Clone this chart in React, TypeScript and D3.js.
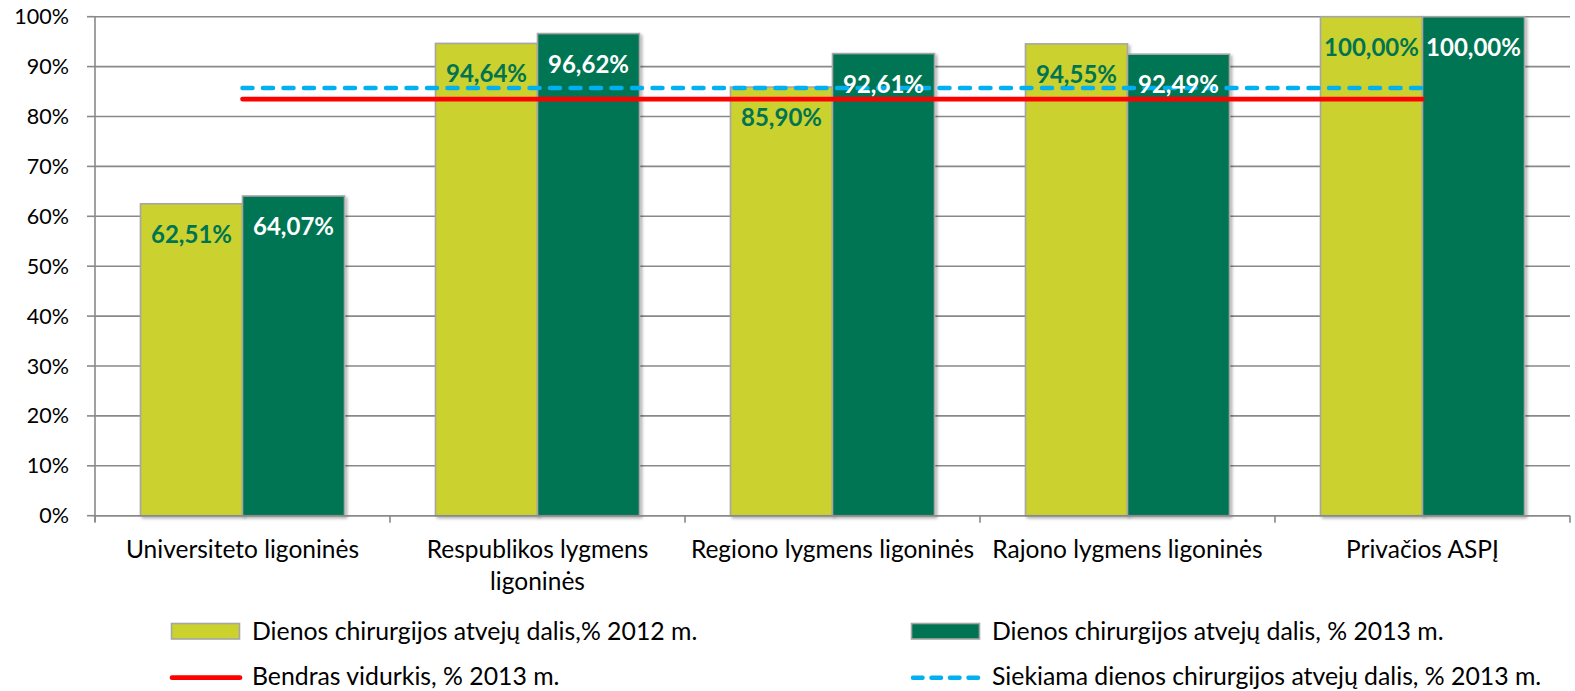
import React from "react";
import * as d3 from "d3";

const categories: string[][] = [
  ["Universiteto ligoninės"],
  ["Respublikos lygmens", "ligoninės"],
  ["Regiono lygmens ligoninės"],
  ["Rajono lygmens ligoninės"],
  ["Privačios ASPĮ"],
];
const series2012: number[] = [62.51, 94.64, 85.9, 94.55, 100];
const series2013: number[] = [64.07, 96.62, 92.61, 92.49, 100];
const averageValue = 83.5;
const targetValue = 85.7;
const yTicks: number[] = [0, 10, 20, 30, 40, 50, 60, 70, 80, 90, 100];
const seriesNames: string[] = [
  "Dienos chirurgijos atvejų dalis,% 2012 m.",
  "Dienos chirurgijos atvejų dalis, % 2013 m.",
  "Bendras vidurkis, % 2013 m.",
  "Siekiama dienos chirurgijos atvejų dalis, % 2013 m.",
];

const W = 1575;
const H = 691;
const left = 95;
const right = 1570;
const top = 16.7;
const bottom = 515.7;

const YELLOW = "#CBD12D";
const GREEN = "#007452";
const RED = "#FF0000";
const BLUE = "#00B0F0";
const GRID = "#898989";
const FONT = "Lato, 'Open Sans', sans-serif";

const fmt = (v: number) => v.toFixed(2).replace(".", ",") + "%";

export default function App() {
  const y = d3.scaleLinear().domain([0, 100]).range([bottom, top]);
  const x = d3
    .scaleBand<number>()
    .domain(categories.map((_, i) => i))
    .range([left, right])
    .padding(0);
  const inner = d3
    .scaleBand<string>()
    .domain(["2012", "2013"])
    .range([0, x.bandwidth()])
    .paddingInner(0)
    .paddingOuter(0.446);

  const cx = (i: number) => (x(i) as number) + x.bandwidth() / 2;
  const lineX1 = cx(0);
  const lineX2 = cx(categories.length - 1);

  const bars = [
    { key: "2012", values: series2012, fill: YELLOW, label: GREEN },
    { key: "2013", values: series2013, fill: GREEN, label: "#FFFFFF" },
  ];

  const boundaries = d3.range(categories.length + 1).map((i) =>
    i < categories.length ? (x(i) as number) : right
  );

  return (
    <svg
      width={W}
      height={H}
      style={{ position: "absolute", left: 0, top: 0, background: "#fff" }}
      fontFamily={FONT}
    >
      <defs>
        <filter id="shadow" x="-10%" y="-10%" width="130%" height="130%">
          <feDropShadow dx="2" dy="2" stdDeviation="1.5" floodColor="#000" floodOpacity="0.3" />
        </filter>
      </defs>
      <rect x={0} y={0} width={W} height={H} fill="#fff" />
      {/* gridlines */}
      {yTicks.map((t) => (
        <line key={"g" + t} x1={left} x2={right} y1={y(t)} y2={y(t)} stroke={GRID} strokeWidth={1.6} />
      ))}
      {/* y axis */}
      <line x1={left} x2={left} y1={top} y2={bottom + 6} stroke={GRID} strokeWidth={1.6} />
      {yTicks.map((t) => (
        <g key={"yt" + t}>
          <line x1={left - 8} x2={left} y1={y(t)} y2={y(t)} stroke={GRID} strokeWidth={1.6} />
          <text x={69} y={y(t)} dy="0.35em" textAnchor="end" fontSize={21.5} fill="#000">
            {t}%
          </text>
        </g>
      ))}
      {/* bars */}
      {bars.map((s) =>
        s.values.map((v, i) => (
          <rect
            key={s.key + i}
            x={(x(i) as number) + (inner(s.key) as number)}
            y={y(v)}
            width={inner.bandwidth()}
            height={y(0) - y(v)}
            fill={s.fill}
            stroke="#A6A6A6"
            strokeWidth={1.6}
            filter="url(#shadow)"
          />
        ))
      )}
      {/* x axis */}
      <line x1={left} x2={right} y1={bottom} y2={bottom} stroke={GRID} strokeWidth={1.6} />
      {boundaries.map((b, i) => (
        <line key={"xt" + i} x1={b} x2={b} y1={bottom} y2={bottom + 7} stroke={GRID} strokeWidth={1.6} />
      ))}
      {categories.map((lines, i) => (
        <text key={"c" + i} x={cx(i)} y={557.5} textAnchor="middle" fontSize={24.5} fill="#000">
          {lines.map((l, j) => (
            <tspan key={j} x={cx(i)} dy={j === 0 ? 0 : 32.5}>
              {l}
            </tspan>
          ))}
        </text>
      ))}
      {/* lines */}
      <line x1={lineX1} x2={lineX2} y1={y(averageValue)} y2={y(averageValue)} stroke={RED} strokeWidth={4.7} strokeLinecap="round" />
      <line
        x1={lineX1}
        x2={lineX2}
        y1={y(targetValue)}
        y2={y(targetValue)}
        stroke={BLUE}
        strokeWidth={4.5}
        strokeLinecap="round"
        strokeDasharray="10 10.5"
      />
      {/* data labels */}
      {bars.map((s) =>
        s.values.map((v, i) => (
          <text
            key={"l" + s.key + i}
            x={(x(i) as number) + (inner(s.key) as number) + inner.bandwidth() / 2}
            y={y(v) + 39}
            textAnchor="middle"
            fontSize={24}
            fontWeight="bold"
            fill={s.label}
          >
            {fmt(v)}
          </text>
        ))
      )}
      {/* legend */}
      <g fontSize={24.8} fill="#000">
        <rect x={171.5} y={623.5} width={68} height={15.5} fill={YELLOW} stroke="#A6A6A6" strokeWidth={1.6} />
        <text x={252} y={639.5}>{seriesNames[0]}</text>
        <rect x={911.5} y={623.5} width={68} height={15.5} fill={GREEN} stroke="#A6A6A6" strokeWidth={1.6} />
        <text x={992} y={639.5}>{seriesNames[1]}</text>
        <line x1={172} x2={240} y1={677.7} y2={677.7} stroke={RED} strokeWidth={4.7} strokeLinecap="round" />
        <text x={252} y={684.5}>{seriesNames[2]}</text>
        <line x1={913} x2={980} y1={677.7} y2={677.7} stroke={BLUE} strokeWidth={4.5} strokeLinecap="round" strokeDasharray="9.5 9" />
        <text x={992} y={684.5}>{seriesNames[3]}</text>
      </g>
    </svg>
  );
}
